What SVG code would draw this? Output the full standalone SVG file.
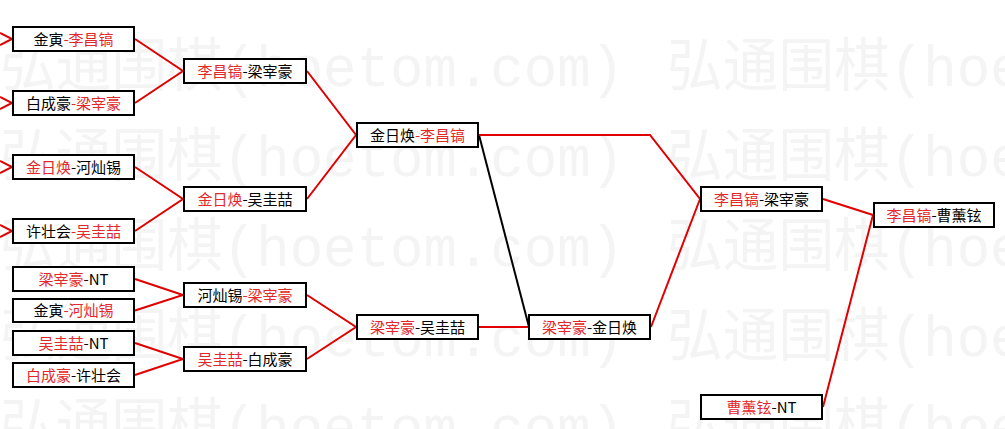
<svg xmlns="http://www.w3.org/2000/svg" width="1005" height="429" viewBox="0 0 1005 429">
<style>
.wm{font-family:"Liberation Mono","Noto Sans CJK SC",monospace;font-size:58px;fill:#f4f4f4}
.box{fill:#fff;stroke:#000;stroke-width:2}
.t{font-family:"Noto Sans CJK SC","Noto Sans CJK JP",sans-serif;font-size:15px;fill:#000;text-anchor:middle}
.r{fill:#e3282c}
.ln{fill:none;stroke:#e00000;stroke-width:2}
.lk{fill:none;stroke:#000;stroke-width:2}
</style>
<rect x="0" y="0" width="1005" height="429" fill="#fff"/>
<g id="watermark">
<text class="wm" x="0" y="86" textLength="624" lengthAdjust="spacingAndGlyphs">弘通围棋(hoetom.com)</text>
<text class="wm" x="667" y="86" textLength="624" lengthAdjust="spacingAndGlyphs">弘通围棋(hoetom.com)</text>
<text class="wm" x="0" y="176" textLength="624" lengthAdjust="spacingAndGlyphs">弘通围棋(hoetom.com)</text>
<text class="wm" x="667" y="176" textLength="624" lengthAdjust="spacingAndGlyphs">弘通围棋(hoetom.com)</text>
<text class="wm" x="0" y="266" textLength="624" lengthAdjust="spacingAndGlyphs">弘通围棋(hoetom.com)</text>
<text class="wm" x="667" y="266" textLength="624" lengthAdjust="spacingAndGlyphs">弘通围棋(hoetom.com)</text>
<text class="wm" x="0" y="356" textLength="624" lengthAdjust="spacingAndGlyphs">弘通围棋(hoetom.com)</text>
<text class="wm" x="667" y="356" textLength="624" lengthAdjust="spacingAndGlyphs">弘通围棋(hoetom.com)</text>
<text class="wm" x="0" y="446" textLength="624" lengthAdjust="spacingAndGlyphs">弘通围棋(hoetom.com)</text>
<text class="wm" x="667" y="446" textLength="624" lengthAdjust="spacingAndGlyphs">弘通围棋(hoetom.com)</text>
</g>
<g id="connectors">
<polyline class="ln" points="0,33 12,39 0,45"/>
<polyline class="ln" points="0,97 12,103 0,109"/>
<polyline class="ln" points="0,161 12,167 0,173"/>
<polyline class="ln" points="0,225 12,231 0,237"/>
<polyline class="ln" points="135,39 183,71 135,103"/>
<polyline class="ln" points="135,167 183,199 135,231"/>
<polyline class="ln" points="135,279 183,295 135,310.5"/>
<polyline class="ln" points="135,343 183,359 135,375"/>
<polyline class="ln" points="307,71 356,135 307,199"/>
<polyline class="ln" points="307,295 356,327 307,359"/>
<line class="ln" x1="479" y1="327" x2="528" y2="327"/>
<line class="lk" x1="479" y1="135" x2="529" y2="327"/>
<polyline class="ln" points="479,135 650,135 700,199 651,327"/>
<polyline class="ln" points="823,199 873,215 823,407"/>
</g>
<g id="n-a1"><rect class="box" x="13" y="27" width="121" height="24"/><text class="t" x="73.5" y="44.5">金寅<tspan class="r">-李昌镐</tspan></text></g>
<g id="n-a2"><rect class="box" x="13" y="91" width="121" height="24"/><text class="t" x="73.5" y="108.5">白成豪<tspan class="r">-梁宰豪</tspan></text></g>
<g id="n-a3"><rect class="box" x="13" y="155" width="121" height="24"/><text class="t" x="73.5" y="172.5"><tspan class="r">金日焕</tspan>-河灿锡</text></g>
<g id="n-a4"><rect class="box" x="13" y="219" width="121" height="24"/><text class="t" x="73.5" y="236.5">许壮会<tspan class="r">-吴圭喆</tspan></text></g>
<g id="n-a5"><rect class="box" x="13" y="267" width="121" height="24"/><text class="t" x="73.5" y="284.5"><tspan class="r">梁宰豪</tspan>-NT</text></g>
<g id="n-a6"><rect class="box" x="13" y="299" width="121" height="23"/><text class="t" x="73.5" y="316">金寅<tspan class="r">-河灿锡</tspan></text></g>
<g id="n-a7"><rect class="box" x="13" y="331" width="121" height="24"/><text class="t" x="73.5" y="348.5"><tspan class="r">吴圭喆</tspan>-NT</text></g>
<g id="n-a8"><rect class="box" x="13" y="363" width="121" height="24"/><text class="t" x="73.5" y="380.5"><tspan class="r">白成豪</tspan>-许壮会</text></g>
<g id="n-b1"><rect class="box" x="184" y="59" width="122" height="24"/><text class="t" x="245" y="76.5"><tspan class="r">李昌镐</tspan>-梁宰豪</text></g>
<g id="n-b2"><rect class="box" x="184" y="187" width="122" height="24"/><text class="t" x="245" y="204.5"><tspan class="r">金日焕</tspan>-吴圭喆</text></g>
<g id="n-b3"><rect class="box" x="184" y="283" width="122" height="24"/><text class="t" x="245" y="300.5">河灿锡<tspan class="r">-梁宰豪</tspan></text></g>
<g id="n-b4"><rect class="box" x="184" y="347" width="122" height="24"/><text class="t" x="245" y="364.5"><tspan class="r">吴圭喆</tspan>-白成豪</text></g>
<g id="n-c1"><rect class="box" x="357" y="123" width="121" height="24"/><text class="t" x="417.5" y="140.5">金日焕<tspan class="r">-李昌镐</tspan></text></g>
<g id="n-c2"><rect class="box" x="357" y="315" width="121" height="24"/><text class="t" x="417.5" y="332.5"><tspan class="r">梁宰豪</tspan>-吴圭喆</text></g>
<g id="n-d1"><rect class="box" x="529" y="315" width="121" height="24"/><text class="t" x="589.5" y="332.5"><tspan class="r">梁宰豪</tspan>-金日焕</text></g>
<g id="n-e1"><rect class="box" x="701" y="187" width="121" height="24"/><text class="t" x="761.5" y="204.5"><tspan class="r">李昌镐</tspan>-梁宰豪</text></g>
<g id="n-e2"><rect class="box" x="701" y="395" width="121" height="24"/><text class="t" x="761.5" y="412.5"><tspan class="r">曹薰铉</tspan>-NT</text></g>
<g id="n-f1"><rect class="box" x="874" y="203" width="120" height="24"/><text class="t" x="934" y="220.5"><tspan class="r">李昌镐</tspan>-曹薰铉</text></g>
</svg>
